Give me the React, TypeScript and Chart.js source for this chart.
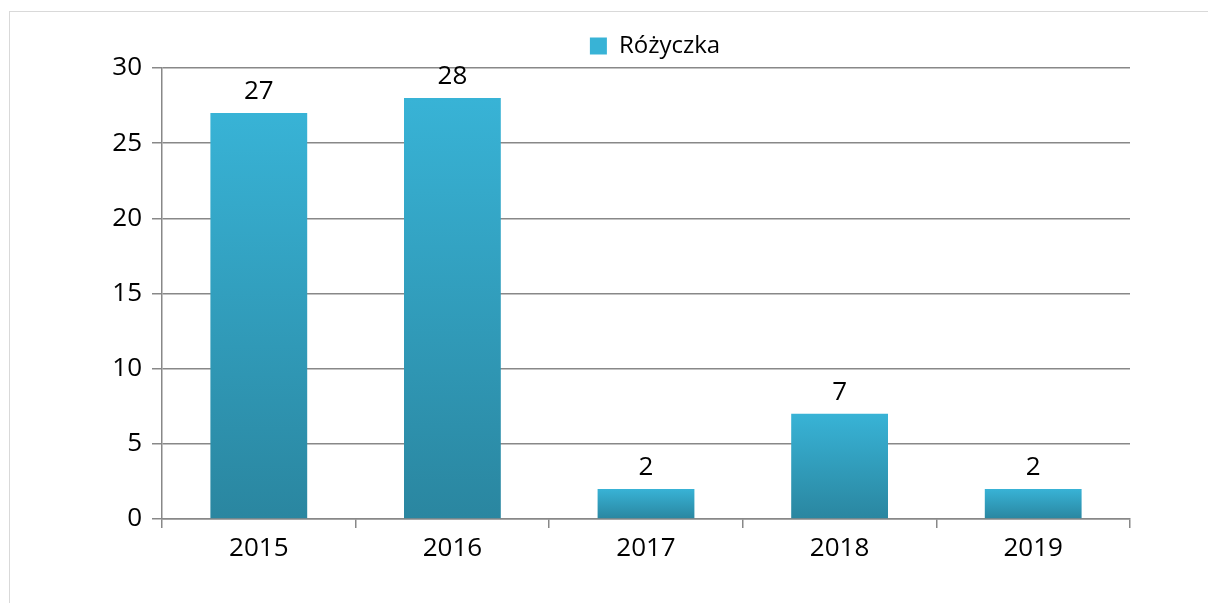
import React, { useEffect, useRef } from "react";
import { Chart, registerables } from "chart.js";
Chart.register(...registerables);

const categories = ["2015", "2016", "2017", "2018", "2019"];
const seriesName = "Różyczka";
const values = [27, 28, 2, 7, 2];
const yMin = 0;
const yMax = 30;
const yStep = 5;

const FONT = "'Open Sans', sans-serif";
const TOP_COLOR = "#38b3d6";
const BOTTOM_COLOR = "#2a86a0";

export default function App() {
  const ref = useRef<HTMLCanvasElement>(null);

  useEffect(() => {
    const canvas = ref.current!;
    const valueLabels = {
      id: "valueLabels",
      afterDatasetsDraw(chart: any) {
        const ctx = chart.ctx;
        const meta = chart.getDatasetMeta(0);
        ctx.save();
        ctx.font = `26px ${FONT}`;
        ctx.fillStyle = "#000";
        ctx.textAlign = "center";
        ctx.textBaseline = "alphabetic";
        meta.data.forEach((bar: any, i: number) => {
          ctx.fillText(String(values[i]), bar.x, bar.y - 14);
        });
        ctx.restore();
      },
    };

    const chart = new Chart(canvas, {
      type: "bar",
      data: {
        labels: categories,
        datasets: [
          {
            label: seriesName,
            data: values,
            barPercentage: 0.5,
            categoryPercentage: 1,
            backgroundColor: (c: any) => {
              const ch = c.chart;
              if (c.type !== "data" || !ch.chartArea) return "#33a3c4";
              const ys = ch.scales.y;
              const top = ys.getPixelForValue(c.raw as number);
              const bottom = ys.getPixelForValue(0);
              const g = ch.ctx.createLinearGradient(0, top, 0, bottom);
              g.addColorStop(0, TOP_COLOR);
              g.addColorStop(1, BOTTOM_COLOR);
              return g;
            },
            borderWidth: 0,
          },
        ],
      },
      options: {
        responsive: false,
        animation: false,
        devicePixelRatio: 1,
        layout: { padding: { left: 102, right: 0, top: 27, bottom: 0 } },
        plugins: {
          legend: {
            display: true,
            position: "top",
            labels: {
              boxWidth: 17,
              boxHeight: 17,
              font: { family: FONT, size: 24 },
              color: "#000",
              padding: 7,
            },
          },
          tooltip: { enabled: false },
        },
        scales: {
          x: {
            offset: true,
            grid: {
              offset: true,
              drawOnChartArea: false,
              drawTicks: true,
              tickLength: 9,
              color: "#888",
              lineWidth: 1.5,
            },
            border: { display: true, color: "#888", width: 1.5 },
            ticks: { font: { family: FONT, size: 26 }, color: "#000", padding: 5 },
            afterFit(s: any) {
              s.height = 84;
            },
          },
          y: {
            min: yMin,
            max: yMax,
            position: "left",
            ticks: { stepSize: yStep, font: { family: FONT, size: 26 }, color: "#000", padding: 10 },
            grid: { color: "#888", lineWidth: 1.5, tickLength: 10, drawTicks: true },
            border: { display: true, color: "#888", width: 1.5 },
            afterFit(s: any) {
              s.width = 60;
            },
          },
          yR: {
            position: "right",
            min: 0,
            max: 1,
            grid: { display: false },
            ticks: { display: false },
            border: { display: false },
            afterFit(s: any) {
              s.width = 78;
            },
          },
        },
      },
      plugins: [valueLabels],
    } as any);
    return () => chart.destroy();
  }, []);

  return (
    <div style={{ position: "absolute", left: 0, top: 0, width: 1208, height: 603, background: "#fff", overflow: "hidden" }}>
      <div
        style={{
          position: "absolute",
          left: 9,
          top: 11,
          width: 1208,
          height: 603,
          border: "1px solid #d9d9d9",
          boxSizing: "border-box",
        }}
      />
      <canvas ref={ref} width={1208} height={603} style={{ position: "absolute", left: 0, top: 0 }} />
    </div>
  );
}
